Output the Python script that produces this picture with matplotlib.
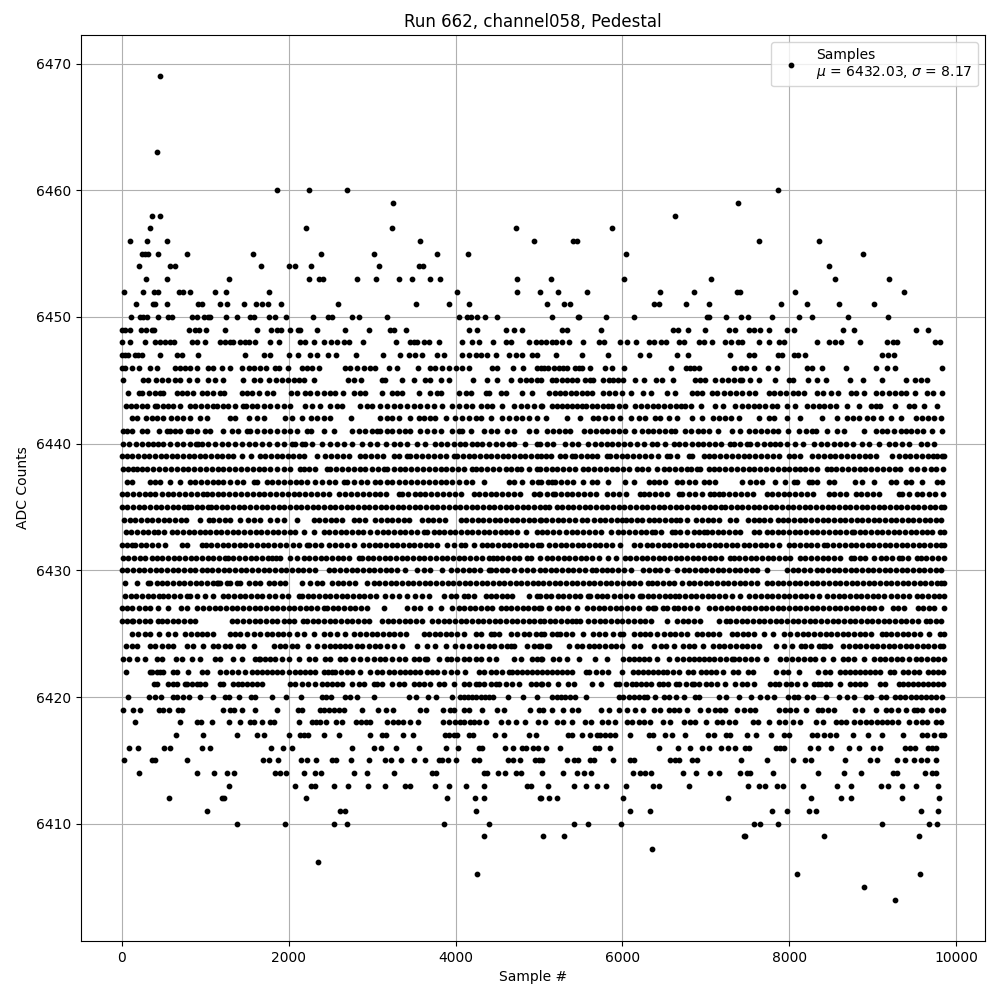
#!/usr/bin/env python3
# -*- coding: utf-8 -*-

import matplotlib
matplotlib.use("Agg")
import matplotlib.pyplot as plt

# sample numbers, one list per ADC level
x_6469 = [464]
x_6463 = [428]
x_6460 = [1856,2240,2696,7860]
x_6459 = [3248,7380]
x_6458 = [368,464,6624]
x_6457 = [344,2204,3240,4724,5880]
x_6456 = [104,308,548,3572,4940,5412,5452,7632,8352]
x_6455 = [248,280,312,440,788,1568,2384,3020,3776,4148,6048,8880]
x_6454 = [212,584,644,1664,2000,2072,2264,3080,3560,3608,8472]
x_6453 = [296,548,1292,2240,2360,2408,2816,3044,3320,3476,3692,3812,4736,5148,6024,7056,8544,9192]
x_6452 = [32,260,392,440,692,740,824,1124,1256,1760,4016,4740,5012,5232,5580,6444,6852,7368,7412,8064,9372]
x_6451 = [176,380,404,548,920,968,1184,1268,1472,1604,1676,1748,1904,2588,3524,3916,4160,5100,5304,5376,6372,6432,6756,7032,7896,8208,8592,9012]
x_6450 = [116,224,260,308,440,560,608,848,908,992,1040,1064,1256,1388,1532,1580,1760,1832,1964,2288,2468,2516,2756,2840,3176,4040,4136,4184,4256,4352,4496,
          5160,5472,5484,5808,6132,7008,7032,7236,7416,7500,7788,8112,8268,8700,9180]
x_6449 = [0,40,104,236,296,368,392,812,884,932,1016,1244,1616,1784,1856,1904,2012,2108,2132,2336,2672,2960,3212,3260,3404,4160,4256,4604,4700,4796,
          5280,5340,5748,6600,6660,6780,6984,7272,7344,7512,7572,7644,7752,7972,8052,8640,8772,9516,9660]
x_6448 = [0,104,280,400,460,520,580,628,848,900,1000,1180,1240,1300,1340,1420,1480,1520,1592,1772,1880,2140,2200,2300,2420,2508,2580,2660,2720,2888,3284,
          3452,3500,3540,3620,3680,3800,4080,4200,4280,4448,4600,4660,4880,4960,5020,5084,5160,5200,5280,5364,5532,5724,5780,5972,6060,6164,6312,6372,6460,6524,
          6672,6732,6912,6972,7072,7232,7300,7380,7432,7632,7752,7872,7932,8328,8472,8540,8612,8844,9164,9240,9292,9740,9800]
x_6447 = [0,40,80,160,200,240,460,668,720,920,1484,1700,1780,2000,2108,2260,2340,2468,2564,2804,3128,3332,3440,3520,3600,3780,3860,4080,4160,4240,4300,4380,
          4488,4640,4720,4800,4920,4980,5208,5520,5832,6204,6312,6648,6780,7284,7512,7572,7860,7916,8052,8100,8184,9108,9180,9252]
x_6446 = [0,40,128,212,340,420,640,700,760,820,900,1040,1100,1200,1304,1440,1520,1580,1660,1732,1840,1880,1988,2160,2220,2280,2360,2672,2740,2820,2900,2980,
          3040,3200,3300,3548,3692,3760,3840,3920,4000,4080,4160,4440,4500,4692,4812,4980,5020,5060,5112,5180,5240,5292,5340,5432,5480,5520,5612,5792,5872,6024,
          6576,6760,6812,6860,6912,7332,7424,7484,7572,7744,7852,8212,8272,8388,8676,9036,9168,9268,9824]
x_6445 = [20,260,320,412,480,560,640,700,812,900,1040,1120,1220,1460,1580,1652,1760,1852,1920,1988,2060,2128,2188,2300,2708,2788,2868,3120,3160,3360,3500,3640,
          3700,3820,3920,4212,4380,4500,4668,4772,4840,4900,4980,5020,5152,5200,5272,5340,5400,5452,5552,5612,5652,5772,5844,5892,5950,6012,6144,6252,6404,6472,
          6600,6864,6932,6992,7112,7190,7260,7332,7412,7432,7524,7640,7824,7992,8040,8220,8332,8432,8724,8876,9104,9392,9508,9572,9644]
x_6444 = [80,212,240,332,400,460,500,660,720,780,860,960,1020,1100,1180,1228,1440,1500,1560,1640,1740,1812,2028,2100,2200,2260,2340,2420,2500,2560,2652,2780,
          2860,2920,3120,3240,3300,3360,3560,3700,3780,3820,4040,4120,4180,4360,4400,4540,4600,4800,4920,5124,5190,5250,5310,5380,5440,5512,5572,5632,5772,5844,
          5912,5992,6096,6240,6340,6532,6632,6832,6892,6950,7072,7132,7212,7292,7360,7430,7512,7592,7752,7820,7890,7960,8040,8100,8172,8332,8400,8492,8584,8732,
          8800,8892,9032,9112,9192,9260,9332,9396,9508,9652,9720,9832]
x_6443 = [52,110,170,240,300,400,428,500,560,620,700,820,880,950,1020,1100,1148,1220,1280,1360,1460,1492,1560,1620,1700,1780,1860,1940,2020,2200,2280,2380,2500,
          2580,2640,2860,2940,3000,3100,3180,3260,3340,3420,3500,3580,3660,3740,3840,3960,4040,4120,4200,4300,4380,4440,4560,4700,4780,4860,4940,5020,5032,5152,
          5210,5270,5330,5390,5450,5510,5560,5632,5692,5770,5832,5872,5960,6032,6152,6220,6290,6360,6430,6500,6570,6640,6700,6752,6816,6936,7104,7204,7352,7432,
          7500,7570,7640,7710,7792,7852,7972,8072,8212,8284,8352,8412,8490,8560,8692,8832,8972,9032,9084,9268,9432,9492,9612,9772]
x_6442 = [128,180,292,360,420,500,592,660,740,820,940,1020,1300,1360,1520,1620,1700,1960,2040,2160,2268,2340,2420,2500,2748,3100,3180,3240,3320,3452,3560,3620,
          3700,3760,3880,3988,4080,4160,4240,4300,4428,4560,4640,4720,4800,4880,4980,5084,5340,5492,5652,5712,5792,5872,5972,6100,6192,6272,6392,6452,6552,6652,
          6832,6952,7084,7160,7230,7300,7392,7632,7752,7812,7972,8132,8392,8572,8692,8760,8830,8932,9000,9092,9212,9332,9512,9590,9660,9730,9812]
x_6441 = [12,60,120,240,300,452,540,580,640,700,800,828,900,1000,1060,1220,1320,1400,1500,1540,1620,1700,1780,1860,1940,2020,2100,2220,2268,2420,2540,2760,2840,
          2920,3000,3060,3100,3180,3240,3320,3400,3460,3580,3660,3740,3820,3960,4040,4080,4180,4340,4420,4500,4620,4700,4880,4960,5092,5170,5240,5310,5372,5540,
          5610,5680,5750,5820,5890,5960,6030,6132,6232,6300,6370,6440,6510,6580,6632,6752,6820,6900,6970,7040,7150,7312,7404,7512,7590,7660,7730,7800,7860,7980,
          8112,8200,8272,8324,8448,8572,8652,8892,9032,9112,9172,9250,9340,9392,9460,9530,9600,9712,9832]
x_6440 = [12,90,170,240,320,380,430,500,580,660,740,820,890,920,960,1040,1120,1200,1280,1360,1440,1520,1600,1680,1760,1860,1940,2040,2080,2160,2200,2280,2400,
          2500,2580,2660,2760,2880,2980,3060,3172,3260,3340,3420,3540,3640,3760,3828,3900,3980,4052,4108,4200,4260,4320,4400,4480,4560,4640,4700,4828,4980,5012,
          5100,5172,5312,5390,5472,5592,5670,5740,5810,5880,5950,6020,6090,6172,6252,6352,6412,6512,6612,6672,6750,6830,6900,6970,7040,7110,7180,7292,7332,7412,
          7492,7532,7610,7690,7770,7832,7892,7972,8072,8164,8292,8372,8450,8530,8600,8680,8760,8872,8952,9076,9192,9264,9352,9430,9572,9644,9736]
x_6439 = [0,64,128,200,268,330,396,468,532,604,668,740,804,872,940,1004,1072,1140,1208,1276,1340,1440,1548,1652,1720,1788,1856,1920,1988,2052,2120,2188,2340,
          2440,2508,2580,2648,2720,2860,2920,2988,3060,3128,3260,3320,3420,3460,3532,3600,3668,3740,3808,3880,3980,4020,4088,4156,4224,4292,4360,4428,4496,4564,
          4632,4700,4768,4836,4904,4972,5020,5080,5148,5252,5312,5392,5432,5500,5570,5640,5700,5812,5852,5920,5990,6060,6130,6200,6270,6340,6420,6532,6572,6650,
          6792,6832,6972,7032,7100,7170,7240,7310,7380,7450,7520,7590,7660,7730,7800,7870,7992,8052,8130,8272,8340,8412,8480,8550,8620,8690,8760,8830,8900,8970,
          9040,9232,9312,9380,9450,9520,9590,9660,9720,9772,9832,9850]
x_6438 = [12,80,140,180,240,310,380,450,520,590,660,730,800,870,940,1010,1080,1150,1220,1290,1360,1430,1500,1570,1640,1710,1780,1860,1940,2020,2140,2180,2250,
          2320,2460,2500,2570,2640,2710,2780,2850,2920,3000,3070,3140,3180,3260,3340,3400,3470,3540,3610,3680,3750,3820,3890,3960,4030,4100,4200,4240,4310,4380,
          4450,4520,4600,4660,4740,4788,4880,4980,5012,5080,5150,5220,5290,5360,5430,5532,5592,5660,5730,5800,5870,5940,6010,6080,6172,6232,6300,6412,6492,6560,
          6630,6700,6772,6820,6892,6932,7032,7092,7160,7230,7300,7370,7440,7510,7580,7650,7720,7790,7860,7930,8000,8070,8132,8192,8260,8330,8452,8492,8560,8630,
          8700,8770,8840,8910,8980,9050,9120,9190,9260,9330,9452,9532,9612,9692,9752,9840]
x_6437 = [60,120,340,400,460,580,700,820,880,950,1020,1090,1160,1220,1300,1380,1460,1580,1620,1740,1800,1870,1940,2020,2090,2150,2220,2320,2400,2480,2560,2660,
          2700,2780,2868,2940,3040,3100,3180,3240,3320,3400,3470,3540,3610,3680,3750,3820,3890,3960,4040,4120,4200,4340,4640,4700,4800,4920,4990,5020,5112,5152,
          5192,5260,5332,5412,5532,5632,5700,5832,6032,6132,6312,6372,6440,6510,6652,6712,6792,6872,6972,7032,7112,7428,7532,7600,7670,7832,7952,8052,8092,8232,
          8272,8332,8472,8532,8784,8872,9012,9212,9280,9392,9452,9592,9772,9832]
x_6436 = [0,70,140,210,280,340,400,480,550,620,690,760,830,900,970,1020,1080,1150,1220,1290,1360,1430,1500,1570,1640,1710,1780,1850,1920,1990,2060,2130,2200,
          2270,2340,2410,2480,2600,2680,2750,2820,2890,2960,3030,3100,3170,3320,3360,3430,3520,3572,3640,3710,3780,3850,3920,3990,4060,4220,4280,4350,4420,4490,
          4560,4630,4700,4770,4940,5000,5012,5100,5172,5192,5260,5330,5400,5470,5540,5610,5680,5812,5884,5960,6040,6212,6252,6320,6390,6460,6530,6672,6712,6792,
          6872,6950,7052,7092,7152,7204,7280,7350,7420,7490,7560,7732,7792,7860,7930,8000,8070,8140,8210,8280,8472,8532,8600,8672,8792,8860,8930,9000,9070,9312,
          9352,9432,9532,9592,9670,9740,9840]
x_6435 = [0,68,136,204,272,340,408,476,544,612,680,748,800,828,900,960,1040,1068,1130,1200,1268,1336,1404,1472,1540,1608,1676,1744,1812,1880,1948,2016,2084,2152,
          2220,2288,2356,2424,2492,2560,2628,2696,2764,2832,2900,2968,3036,3104,3172,3240,3308,3376,3444,3512,3580,3648,3716,3784,3852,3920,3988,4056,4124,4192,
          4260,4328,4396,4464,4532,4600,4668,4736,4804,4872,4940,5008,5070,5124,5212,5280,5344,5412,5480,5548,5616,5684,5752,5820,5888,5956,6024,6092,6160,6228,
          6296,6364,6432,6500,6568,6636,6704,6772,6840,6908,6976,7044,7112,7180,7232,7300,7368,7436,7504,7572,7640,7708,7776,7844,7912,7980,8048,8116,8184,8252,
          8320,8388,8456,8524,8592,8660,8728,8796,8864,8932,9000,9068,9136,9204,9272,9340,9408,9476,9544,9612,9680,9748,9816,9850]
x_6434 = [28,96,164,232,300,368,436,504,572,640,708,776,940,1044,1100,1168,1236,1304,1420,1512,1580,1660,1780,1860,1940,2096,2300,2368,2436,2504,2572,2640,2780,
          2848,2916,3040,3108,3176,3244,3312,3380,3448,3600,3668,3736,3804,3872,4060,4128,4196,4264,4332,4400,4468,4536,4604,4672,4740,4808,4876,4944,5012,5020,
          5088,5156,5224,5292,5360,5428,5510,5580,5660,5728,5796,5864,5932,6000,6040,6100,6168,6236,6312,6372,6440,6508,6576,6644,6692,6772,6880,6952,7020,7088,
          7156,7292,7360,7500,7572,7632,7700,7768,7860,7920,7988,8056,8124,8192,8260,8328,8396,8464,8532,8600,8668,8736,8804,8872,8940,9008,9076,9144,9212,9280,
          9348,9416,9484,9552,9620,9688,9756,9820]
x_6433 = [48,116,184,252,320,388,440,508,600,668,736,804,872,940,1000,1060,1128,1196,1264,1332,1400,1468,1536,1604,1672,1740,1808,1876,1944,2020,2080,2180,2300,
          2420,2488,2556,2624,2692,2760,2828,2896,2980,3060,3128,3196,3264,3332,3400,3468,3536,3620,3660,3740,3800,3860,3928,3996,4064,4132,4200,4268,4336,4404,
          4472,4540,4600,4660,4740,4840,4980,5040,5100,5172,5240,5320,5390,5458,5526,5594,5672,5748,5860,5952,6012,6080,6148,6216,6284,6352,6392,6460,6592,6624,
          6692,6772,6852,6920,6972,7012,7072,7140,7208,7276,7344,7412,7572,7632,7732,7792,7860,7928,7996,8064,8132,8200,8268,8336,8404,8472,8540,8608,8676,8744,
          8772,8840,8908,8976,9044,9112,9180,9248,9316,9384,9452,9520,9592,9652,9712,9800,9850]
x_6432 = [0,60,120,160,228,296,364,432,520,720,780,960,1008,1076,1144,1212,1280,1348,1416,1484,1552,1620,1688,1756,1824,1900,1972,2052,2120,2220,2248,2316,2384,
          2480,2560,2628,2696,2788,2896,2964,3032,3100,3168,3236,3304,3372,3440,3508,3576,3644,3712,3780,3900,3980,4060,4108,4220,4320,4372,4440,4508,4576,4644,
          4712,4780,4848,4916,4984,5020,5116,5192,5260,5328,5396,5464,5532,5600,5668,5736,5804,5872,5968,6132,6212,6288,6356,6424,6492,6560,6628,6696,6764,6832,
          6900,6968,7036,7104,7172,7240,7308,7376,7452,7520,7588,7656,7724,7792,7872,7992,8060,8128,8196,8264,8332,8412,8452,8520,8588,8660,8732,8800,8868,8936,
          9004,9072,9140,9208,9276,9344,9412,9480,9548,9616,9684,9752,9820,9850]
x_6431 = [12,80,148,220,280,360,420,488,556,624,692,760,828,896,964,1032,1100,1168,1240,1272,1340,1408,1476,1544,1612,1680,1748,1800,1852,1900,2020,2100,2180,
          2248,2316,2384,2452,2520,2588,2656,2724,2840,2880,2948,3016,3084,3152,3220,3288,3356,3424,3492,3560,3628,3696,3764,3832,3900,3968,4036,4104,4172,4240,
          4320,4400,4452,4500,4560,4628,4696,4764,4860,4900,5012,5092,5160,5228,5296,5364,5432,5500,5568,5632,5724,5832,5924,6032,6092,6160,6228,6296,6364,
          6432,6500,6568,6636,6704,6772,6840,6908,6976,7044,7112,7180,7292,7332,7400,7468,7536,7604,7672,7740,7808,7876,7944,8012,8132,8192,8260,8328,8396,8464,
          8532,8600,8732,8772,8840,8908,9012,9092,9160,9228,9312,9352,9420,9532,9572,9640,9708,9776,9850]
x_6430 = [0,68,136,204,272,340,408,476,544,612,680,748,816,884,960,1020,1088,1156,1224,1292,1360,1428,1496,1564,1632,1700,1768,1836,1904,1972,2040,2108,2176,2244,
          2312,2480,2540,2620,2688,2756,2824,2892,2960,3028,3096,3164,3232,3300,3400,3540,3620,3700,3840,3940,4020,4088,4156,4224,4292,4400,4428,4480,4560,4620,
          4700,4780,4860,4928,5012,5072,5140,5208,5276,5344,5412,5480,5548,5632,5680,5760,5820,5880,5948,6016,6100,6240,6312,6392,6452,6532,6652,6732,6800,6868,
          6936,7004,7072,7140,7208,7276,7344,7412,7480,7548,7616,7732,7972,8040,8108,8176,8244,8332,8392,8460,8528,8596,8664,8732,8800,8868,8936,9004,9072,9140,
          9208,9276,9344,9412,9480,9548,9616,9684,9752,9820]
x_6429 = [44,180,320,340,420,480,548,616,684,752,820,888,956,1024,1092,1140,1160,1180,1260,1300,1380,1420,1520,1600,1660,1760,1828,1900,1960,2160,2260,2340,2400,
          2520,2588,2656,2720,2800,2940,3020,3088,3156,3224,3292,3360,3428,3496,3564,3632,3700,3768,3836,3904,3972,4040,4108,4176,4244,4312,4380,4448,4516,4584,
          4652,4720,4788,4856,4924,4992,5052,5120,5188,5256,5324,5392,5460,5528,5596,5664,5732,5800,5868,5936,6004,6072,6140,6208,6300,6348,6416,6484,6552,6620,
          6712,6792,6860,6928,6996,7064,7132,7200,7268,7336,7404,7472,7540,7608,7732,7792,7860,7928,7996,8064,8132,8200,8268,8336,8404,8472,8540,8608,8676,8744,
          8812,8880,8948,9016,9084,9152,9220,9288,9356,9424,9492,9560,9628,9696,9764,9812,9850]
x_6428 = [40,108,176,244,312,380,452,492,560,628,696,780,820,900,1000,1100,1220,1280,1348,1416,1484,1552,1620,1680,1760,1840,1920,1990,2120,2160,2228,
          2296,2364,2432,2500,2568,2636,2704,2772,2840,2908,2976,3044,3160,3240,3320,3420,3520,3600,3680,3860,3940,4000,4100,4148,4216,4360,4420,4480,4560,4620,
          4680,4880,4972,5012,5080,5148,5232,5292,5360,5428,5496,5592,5612,5692,5760,5820,5900,5970,6044,6112,6212,6232,6300,6368,6436,6504,6572,6632,6680,6748,
          6816,6884,6952,7020,7088,7156,7224,7312,7404,7512,7592,7660,7728,7796,7864,7932,8000,8068,8136,8204,8272,8352,8452,8520,8588,8656,8724,8792,8860,8928,
          8996,9064,9132,9212,9292,9360,9432,9532,9592,9660,9728,9796,9850]
x_6427 = [0,60,120,212,280,340,440,560,708,780,900,980,1048,1116,1184,1252,1320,1388,1456,1524,1592,1660,1728,1796,1864,1932,2000,2068,2136,2204,2272,2340,2420,
          2460,2528,2596,2664,2732,2800,2868,2940,3140,3420,3500,3580,3700,3820,3960,4040,4100,4168,4236,4304,4372,4440,4540,4600,4668,4736,4804,4872,4940,5000,
          5020,5120,5212,5280,5352,5460,5580,5648,5716,5784,5852,5920,5988,6060,6120,6196,6300,6360,6392,6480,6530,6620,6660,6740,6808,6892,7040,7112,7180,7248,
          7316,7384,7452,7520,7588,7656,7724,7792,7860,7928,7996,8064,8132,8200,8268,8336,8404,8472,8540,8608,8676,8744,8812,8880,8948,9016,9092,9240,9300,9372,
          9540,9600,9668,9736,9850]
x_6426 = [0,60,120,140,208,280,340,440,480,540,612,680,748,816,880,1320,1388,1456,1524,1592,1660,1728,1796,1864,1940,2000,2068,2168,2220,2288,2356,2424,2492,2560,
          2628,2696,2764,2832,2900,2968,3120,3188,3256,3324,3392,3460,3528,3600,3720,3788,3856,3924,3992,4060,4128,4196,4264,4332,4400,4468,4536,4604,4672,4740,
          4808,4876,4944,5012,5060,5128,5196,5264,5332,5400,5440,5496,5592,5660,5728,5796,5864,5932,6000,6068,6136,6204,6272,6340,6532,6652,6720,6788,6856,6924,
          7152,7244,7292,7360,7428,7496,7564,7632,7700,7768,7836,7904,7972,8040,8108,8176,8244,8312,8380,8448,8516,8584,8652,8720,8788,8856,8924,8992,9060,9128,
          9196,9264,9332,9400,9468,9536,9632,9684,9752,9820]
x_6425 = [120,200,280,340,452,560,640,760,828,900,960,1020,1100,1300,1360,1420,1500,1580,1660,1740,1800,1868,1936,2004,2100,2180,2300,2428,2500,2580,2680,2780,
          2860,2928,2996,3064,3132,3200,3268,3336,3404,3620,3680,3760,3812,3880,3948,4016,4100,4240,4300,4420,4460,4520,4660,4740,4820,4880,4960,5020,5060,
          5152,5212,5252,5320,5392,5532,5644,5720,5792,5892,5972,6012,6132,6212,6272,6332,6412,6492,6572,6632,6700,6768,6892,6952,7020,7088,7156,7312,7372,7440,
          7508,7572,7692,7800,7932,8012,8092,8160,8228,8296,8364,8432,8500,8568,8636,8704,8772,8840,8908,8976,9112,9152,9220,9288,9356,9424,9492,9560,9672,9800,9850]
x_6424 = [52,120,180,340,400,480,560,620,780,860,980,1100,1160,1240,1300,1400,1460,1580,1820,1900,1960,2040,2100,2236,2340,2420,2500,2560,2620,2680,2740,2820,
          2880,2960,3040,3100,3180,3260,3360,3540,3660,3760,3880,3996,4080,4160,4240,4320,4400,4460,4540,4620,4660,4700,4860,4940,5000,5020,5100,5120,5360,5452,
          5520,5600,5660,5720,5792,5860,5920,5992,6132,6212,6372,6460,6520,6620,6724,6792,6852,6960,7080,7156,7220,7292,7360,7428,7496,7564,7640,7844,7932,8032,
          8144,8192,8260,8352,8400,8424,8480,8640,8712,8780,8848,8916,8984,9052,9120,9188,9256,9324,9392,9460,9528,9596,9664,9732,9800,9840]
x_6423 = [20,92,180,280,420,480,648,720,840,940,1120,1180,1340,1440,1600,1640,1660,1720,1780,1840,1920,2000,2120,2240,2320,2440,2500,2620,2680,2776,2860,2940,
          3020,3100,3160,3240,3320,3400,3500,3560,3640,3660,3800,3900,3940,4020,4100,4160,4240,4300,4400,4480,4700,4780,4920,4980,5020,5040,5172,5240,5332,5484,
          5672,5812,6012,6072,6132,6192,6252,6320,6412,6552,6652,6720,6800,6852,6912,6972,7032,7100,7170,7240,7312,7332,7400,7470,7540,7612,7724,7892,7960,8028,
          8100,8180,8252,8312,8400,8520,8640,8700,8772,8892,9012,9080,9148,9216,9284,9352,9432,9512,9580,9648,9716,9784,9850]
x_6422 = [52,340,360,420,460,500,620,660,800,960,1020,1180,1250,1320,1400,1480,1560,1620,1680,1740,1800,1860,1920,2000,2080,2140,2200,2260,2320,2420,2470,2520,
          2560,2624,2700,2760,2860,2980,3060,3120,3200,3260,3340,3400,3460,3520,3580,3660,3720,3780,3860,3940,4012,4112,4280,4340,4420,4480,4560,4640,4680,4740,
          4800,4860,4920,4980,5040,5100,5160,5220,5280,5340,5400,5560,5600,5680,5760,5832,5996,6120,6180,6240,6300,6360,6420,6480,6532,6600,6672,6780,6840,6940,
          7000,7060,7120,7200,7320,7380,7500,7560,7840,7920,7980,8110,8340,8420,8480,8600,8660,8720,8780,8840,8900,8960,9020,9080,9200,9250,9360,9420,9490,9550,
          9660,9720,9780,9840]
x_6421 = [392,420,552,620,668,760,780,840,900,940,1000,1180,1220,1332,1400,1440,1500,1560,1620,1680,2020,2080,2156,2228,2320,2400,2460,2520,2580,2640,2760,2840,
          2900,3020,3060,3120,3240,3320,3380,3500,3560,3620,3700,3800,3860,3980,4100,4160,4240,4280,4340,4420,4480,4520,4600,4680,4760,4900,4960,5020,5040,5112,
          5232,5352,5420,5632,5748,5920,5960,6040,6112,6160,6220,6280,6340,6432,6480,6540,6640,6672,6760,6832,6860,6920,7000,7060,7128,7224,7344,7432,7492,7580,
          7768,7832,7872,7960,8020,8090,8184,8300,8340,8380,8440,8490,8600,8720,8780,8840,8900,9080,9140,9312,9360,9420,9480,9540,9600,9660,9720,9780,9840]
x_6420 = [80,332,404,476,620,668,740,812,944,1100,1244,1292,1412,1544,1592,1796,1972,2144,2396,2444,2504,2672,2732,2816,3020,3440,3532,3668,3772,3956,4052,4100,
          4150,4200,4250,4300,4350,4400,4450,4628,4812,4980,5156,5212,5260,5312,5372,5432,5568,5964,6012,6072,6132,6192,6252,6292,6392,6492,6552,6636,6740,6864,
          6912,7152,7236,7392,7536,7644,7728,7812,7980,8052,8100,8208,8280,8436,8592,8688,8772,8912,8980,9092,9152,9260,9324,9384,9452,9512,9572,9632,9692,9760,9832]
x_6419 = [20,140,224,452,500,572,680,728,1220,1304,1352,1448,1592,1856,2108,2156,2372,2420,2480,2540,2600,2660,2876,3068,3164,3256,3572,3644,3848,3932,3980,4100,
          4160,4320,4492,4584,4892,5000,5052,5160,5284,5392,5472,5748,5844,5964,6060,6152,6244,6372,6452,6552,6612,6672,6768,6924,7020,7104,7164,7224,7372,7452,
          7524,7584,7872,7952,8012,8084,8196,8340,8388,8460,8532,8784,8868,9036,9152,9212,9300,9396,9492,9532,9592,9696,9772,9844]
x_6418 = [164,704,908,956,1088,1292,1424,1532,1580,1680,1772,1820,2120,2276,2324,2372,2452,2564,2636,2804,2864,2924,2972,3176,3248,3308,3368,3460,3548,3848,3920,
          3996,4052,4100,4172,4220,4280,4364,4544,4628,4724,4832,4988,5072,5212,5292,5392,5552,5628,5760,5832,5912,6052,6112,6192,6260,6324,6480,6572,6732,6812,
          6864,6996,7132,7192,7272,7344,7560,7620,7752,7872,7952,8040,8124,8316,8396,8552,8612,8672,8772,8844,8916,8976,9052,9112,9172,9232,9300,9432,9512,9592,
          9652,9752,9820]
x_6417 = [656,980,1388,1616,1700,2000,2132,2180,2228,2420,2600,2972,3116,3164,3368,3488,3872,3920,3980,4020,4160,4208,4472,4580,4880,4964,5352,5400,5520,5616,5692,
          5732,5796,5856,5916,6084,6312,6360,6504,6588,6744,7020,7092,7236,7292,7488,7596,7776,7932,7992,8268,8328,8412,8484,8556,8760,8944,9108,9360,9592,9652,9732,9812,9850]
x_6416 = [92,200,512,584,968,1064,1784,1928,2036,2756,3020,3104,3284,3560,3884,4028,4280,4320,4592,4688,4796,4844,4928,4988,5088,5256,5676,5724,5856,6432,6660,6812,
          6952,7032,7176,7260,7344,7468,7512,7836,7884,7932,8244,8340,8496,8712,8832,8996,9084,9384,9444,9504,9660,9712,9760]
x_6415 = [32,368,404,788,1688,1760,1868,2144,2216,2324,2516,2564,2744,2960,3152,3224,3344,3500,3632,3800,3840,3908,4004,4220,4280,4628,4688,4772,4952,5000,5040,5340,
          5424,5472,5616,5664,5892,6084,6132,6572,6624,6680,6828,6892,7416,7728,8040,8184,8256,8664,8964,9048,9288,9384,9492,9576,9648,9756]
x_6414 = [212,908,1112,1268,1352,1832,1892,1964,2180,2312,2384,2780,2936,3260,3716,3764,4340,4380,4512,4592,4724,4784,5040,5292,5460,5544,5628,6120,6204,6264,6336,
          6720,6876,7044,7152,7404,7488,7524,7800,8344,8652,8856,9240,9288,9624,9708,9756]
x_6413 = [1292,2072,2264,2312,2540,2708,2948,3152,3392,3452,3752,3920,4124,4340,4856,4904,5112,5424,5568,5700,5808,6048,6360,6432,6792,7500,7632,7704,7848,7920,8160,
          8572,8736,9096,9180,9348,9516,9780]
x_6412 = [572,1208,1232,2204,3896,4232,4340,5012,5028,5124,5212,6012,7260,8260,8616,8736,9348,9792]
x_6411 = [1028,2612,2672,4244,6084,6324,7788,7968,8232,8316,9576,9780]
x_6410 = [1388,1952,2540,2696,3860,4400,5424,5592,5988,7572,7644,7860,9108,9672,9768]
x_6409 = [4340,5052,5304,7452,7468,8412,9552]
x_6408 = [6348]
x_6407 = [2348]
x_6406 = [4256,8088,9564]
x_6405 = [8892]
x_6404 = [9264]

levels = [6469,6463,6460,6459,6458,6457,6456,6455,6454,6453,6452,6451,6450,6449,6448,6447,6446,6445,
          6444,6443,6442,6441,6440,6439,6438,6437,6436,6435,6434,6433,6432,6431,6430,6429,6428,6427,
          6426,6425,6424,6423,6422,6421,6420,6419,6418,6417,6416,6415,6414,6413,6412,6411,6410,6409,
          6408,6407,6406,6405,6404]
rows = [x_6469,x_6463,x_6460,x_6459,x_6458,x_6457,x_6456,x_6455,x_6454,x_6453,x_6452,x_6451,x_6450,x_6449,
        x_6448,x_6447,x_6446,x_6445,x_6444,x_6443,x_6442,x_6441,x_6440,x_6439,x_6438,x_6437,x_6436,x_6435,
        x_6434,x_6433,x_6432,x_6431,x_6430,x_6429,x_6428,x_6427,x_6426,x_6425,x_6424,x_6423,x_6422,x_6421,
        x_6420,x_6419,x_6418,x_6417,x_6416,x_6415,x_6414,x_6413,x_6412,x_6411,x_6410,x_6409,x_6408,x_6407,
        x_6406,x_6405,x_6404]

xs = []
ys = []
for level, row in zip(levels, rows):
    xs += row
    ys += [level] * len(row)

plt.figure(figsize=(10, 10))
plt.plot(xs, ys, "k.", markersize=6.3, label="Samples\n" + r"$\mu$ = 6432.03, $\sigma$ = 8.17")
plt.grid()
plt.xlabel("Sample #")
plt.ylabel("ADC Counts")
plt.title("Run 662, channel058, Pedestal")
plt.legend(loc="upper right")
plt.subplots_adjust(left=0.0805, right=0.985, top=0.965, bottom=0.059)
plt.savefig("out.png", dpi=100)
